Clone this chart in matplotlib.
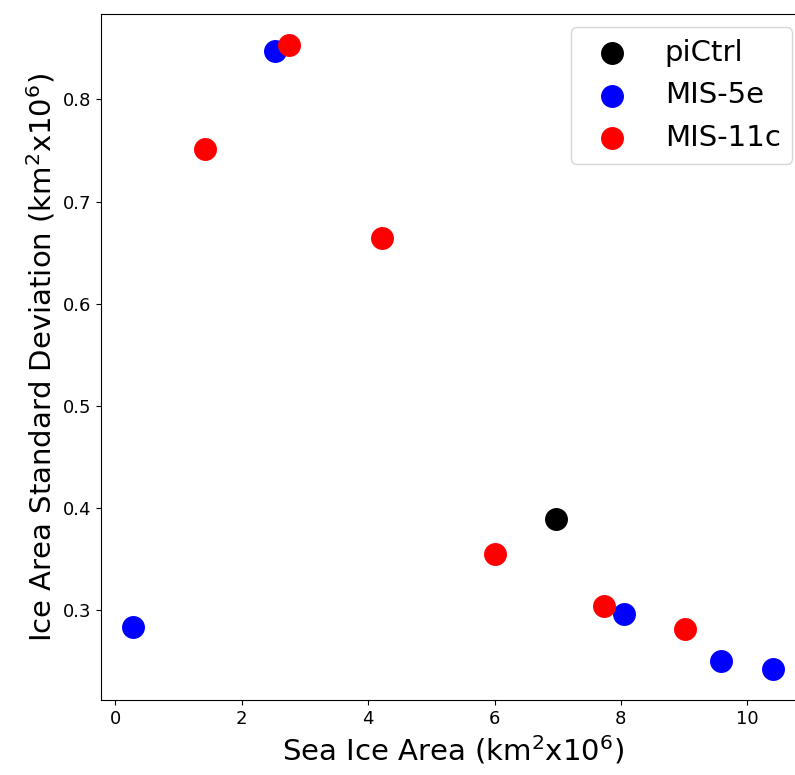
import matplotlib
matplotlib.use("Agg")
import matplotlib.pyplot as plt

# sea ice area (km2 x10^6) and its standard deviation per experiment
pictrl_area = [6.98]
pictrl_std = [0.389]

mis5e_area = [0.28, 2.52, 8.05, 9.59, 10.41]
mis5e_std = [0.284, 0.847, 0.296, 0.250, 0.243]

mis11c_area = [1.42, 2.75, 4.22, 6.00, 7.74, 9.02]
mis11c_std = [0.751, 0.853, 0.664, 0.355, 0.304, 0.282]

fig = plt.figure(figsize=(7.95, 7.75), dpi=100)
# axes run a bit past the right edge (the original picture is cut there)
ax = fig.add_axes([0.127, 0.097, 0.886, 0.885])

ax.scatter(pictrl_area, pictrl_std, s=240, c="black", label="piCtrl")
ax.scatter(mis5e_area, mis5e_std, s=240, c="blue", label="MIS-5e")
ax.scatter(mis11c_area, mis11c_std, s=240, c="red", label="MIS-11c")

ax.set_xlim(-0.23, 10.92)
ax.set_ylim(0.2125, 0.8835)

ax.set_xlabel(r"Sea Ice Area (km$^2$x10$^6$)", fontsize=21)
ax.set_ylabel(r"Ice Area Standard Deviation (km$^2$x10$^6$)", fontsize=21)
ax.tick_params(labelsize=13)

ax.legend(loc="upper right", fontsize=21, borderaxespad=0.45)

fig.savefig("out.png", dpi=100)
